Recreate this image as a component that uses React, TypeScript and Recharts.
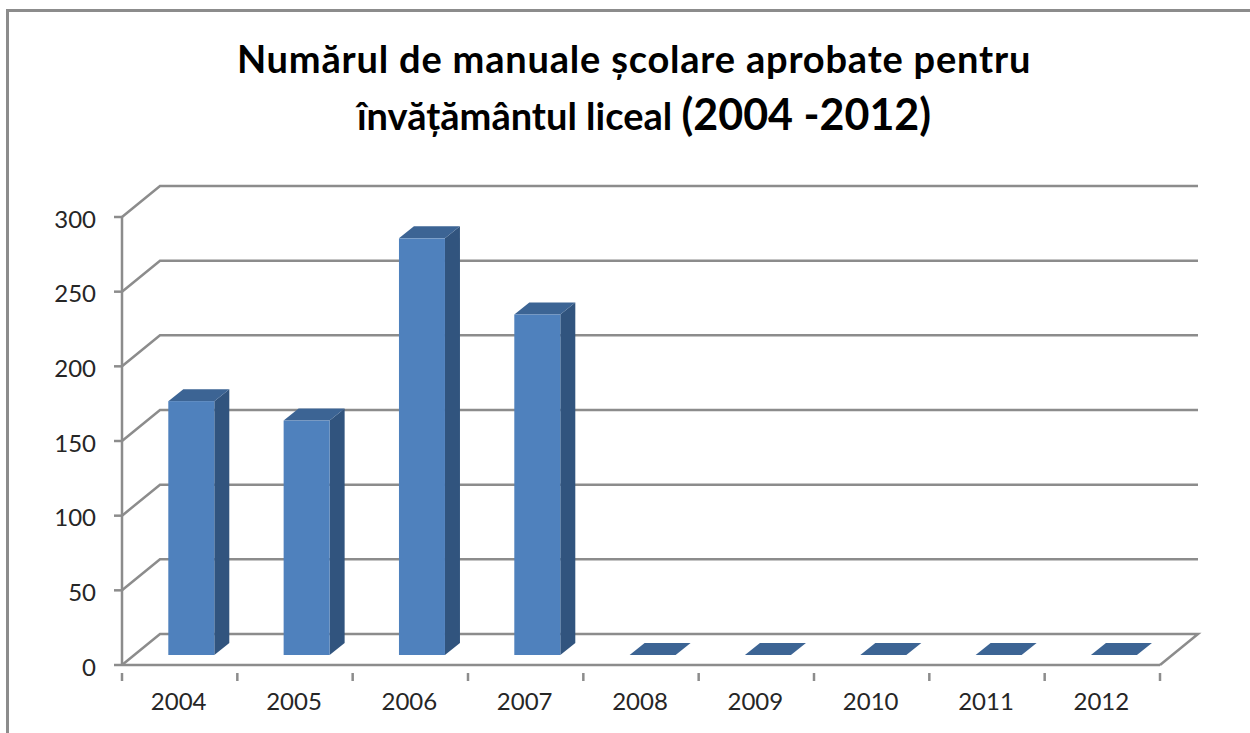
import { BarChart, Bar, XAxis, YAxis, CartesianGrid } from 'recharts';

const years = ['2004', '2005', '2006', '2007', '2008', '2009', '2010', '2011', '2012'];
const manuals = [170, 157, 279, 228, 0, 0, 0, 0, 0];
const yTicks = [0, 50, 100, 150, 200, 250, 300];

const data = years.map((year, i) => ({ year, manuals: manuals[i] }));

const W = 1250;
const H = 733;
const PLOT_LEFT = 122;
const PLOT_RIGHT = 1160;
const PLOT_TOP = 217;
const PLOT_BOTTOM = 665;
const STEP = (PLOT_RIGHT - PLOT_LEFT) / years.length;

const LINE = '#8c8c8c';
const TEXT = '#262626';
const FONT = 'Lato, "Open Sans", sans-serif';

// how far the back wall sits behind the axes
const WALL_DX = 38;
const WALL_DY = 31;

const WallLine = (props: any) => {
  const { x1, x2, y1 } = props;
  const isFloor = Math.abs(y1 - PLOT_BOTTOM) < 1;
  const back = y1 - WALL_DY;
  let d = `M${x1} ${y1}L${x1 + WALL_DX} ${back}L${x2 + WALL_DX} ${back}`;
  if (isFloor) d += `L${x2} ${y1}`;
  return <path d={d} fill="none" stroke={LINE} strokeWidth={2.5} />;
};

const Bar3D = (props: any) => {
  const { x, y, width, height } = props;
  // Excel puts the column in the middle of the floor depth
  const dx = 11.3;
  const dy = 10;
  const depthX = 15;
  const depthY = 12;
  const l = x + dx;
  const r = l + width;
  const t = y - dy;
  const b = t + height;
  return (
    <g>
      {height > 0 && (
        <path
          d={`M${r} ${t}L${r + depthX} ${t - depthY}L${r + depthX} ${b - depthY}L${r} ${b}Z`}
          fill="#31547e"
        />
      )}
      <path
        d={`M${l} ${t}L${l + depthX} ${t - depthY}L${r + depthX} ${t - depthY}L${r} ${t}Z`}
        fill="#3c6494"
      />
      {height > 0 && <rect x={l} y={t} width={width} height={height} fill="#4f81bd" />}
    </g>
  );
};

const YearTick = (props: any) => {
  const { x, y, payload, index } = props;
  const left = x - STEP / 2;
  return (
    <g>
      <line x1={left} x2={left} y1={y} y2={y + 8} stroke={LINE} strokeWidth={2.5} />
      {index === years.length - 1 && (
        <line x1={left + STEP} x2={left + STEP} y1={y} y2={y + 8} stroke={LINE} strokeWidth={2.5} />
      )}
      <text x={x - 1} y={y + 37} textAnchor="middle" fontSize={24} fontFamily={FONT} fill={TEXT}>
        {payload.value}
      </text>
    </g>
  );
};

const titleStyle = {
  position: 'absolute',
  transform: 'translateX(-50%)',
  whiteSpace: 'nowrap',
  fontFamily: FONT,
  fontWeight: 700,
  color: '#000',
  lineHeight: 1,
} as const;

export default function App() {
  return (
    <div style={{ position: 'absolute', left: 0, top: 0, width: W, height: H, background: '#fff', overflow: 'hidden' }}>
      <div style={{ position: 'absolute', left: 6, top: 9, right: -5, bottom: -5, borderLeft: `3px solid ${LINE}`, borderTop: `3px solid ${LINE}` }} />
      <div style={{ ...titleStyle, left: 634, top: 39, fontSize: 38, letterSpacing: 0.8 }}>
        Numărul de manuale școlare aprobate pentru
      </div>
      <div style={{ ...titleStyle, left: 644, top: 92, fontSize: 38 }}>
        învățământul liceal <span style={{ fontSize: 43 }}>(2004 -2012)</span>
      </div>
      <div style={{ position: 'absolute', left: 0, top: 0 }}>
        <BarChart
          width={W}
          height={H}
          data={data}
          margin={{ top: PLOT_TOP, right: W - PLOT_RIGHT, bottom: 0, left: 0 }}
          barSize={46}
        >
          <CartesianGrid vertical={false} horizontal={(p: any) => <WallLine key={p.index} {...p} />} />
          <XAxis
            dataKey="year"
            height={H - PLOT_BOTTOM}
            interval={0}
            axisLine={{ stroke: LINE, strokeWidth: 2.5 }}
            tickLine={false}
            tick={<YearTick />}
          />
          <YAxis
            width={PLOT_LEFT}
            domain={[0, 300]}
            ticks={yTicks}
            axisLine={{ stroke: LINE, strokeWidth: 2.5 }}
            tickLine={{ stroke: LINE, strokeWidth: 2.5 }}
            tickSize={8}
            tickMargin={18}
            tick={{ fontSize: 24, fontFamily: FONT, fill: TEXT, dy: 2 }}
          />
          <Bar dataKey="manuals" isAnimationActive={false} shape={<Bar3D />} />
        </BarChart>
      </div>
    </div>
  );
}
